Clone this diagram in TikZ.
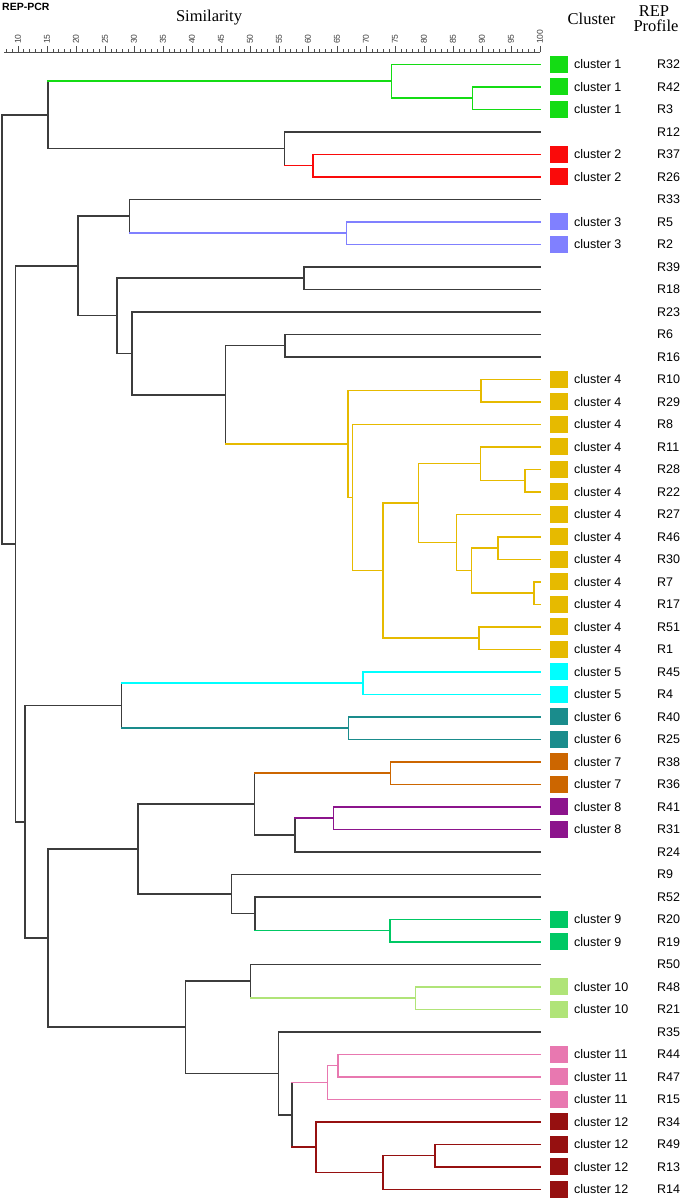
\documentclass[tikz,border=0pt]{standalone}
\usepackage{fontspec}
\setmainfont{Liberation Serif}
\setsansfont{Liberation Sans}
\definecolor{c0}{RGB}{60,60,60}
\definecolor{c1}{RGB}{20,220,20}
\definecolor{c2}{RGB}{250,10,10}
\definecolor{c3}{RGB}{128,128,255}
\definecolor{c4}{RGB}{230,186,0}
\definecolor{c5}{RGB}{0,255,255}
\definecolor{c6}{RGB}{26,140,140}
\definecolor{c7}{RGB}{204,102,0}
\definecolor{c8}{RGB}{140,20,140}
\definecolor{c9}{RGB}{0,200,100}
\definecolor{c10}{RGB}{176,228,120}
\definecolor{c11}{RGB}{232,120,176}
\definecolor{c12}{RGB}{150,16,16}
\newcommand\dn[6]{%
  \draw[dline,#2] (#1 |- #3) -- (#1 |- #5);
  \draw[dline,#4] (#3) -- (#1 |- #3);
  \draw[dline,#6] (#5) -- (#1 |- #5);}
\begin{document}
\begin{tikzpicture}[x=1pt,y=-1pt,
  dline/.style={line width=1.5pt,line cap=rect},
  axisline/.style={line width=0.6pt,draw=black!70},
  lab/.style={font=\sffamily\fontsize{12.5}{14}\selectfont,anchor=west,inner sep=0pt,text height=9pt,text depth=0pt},
  ticklab/.style={font=\sffamily\fontsize{8.5}{9}\selectfont,text=black!75,inner sep=0pt,rotate=90,anchor=west},
  head/.style={font=\fontsize{16.5}{18}\selectfont,inner sep=0pt,anchor=base},
  sq/.style={minimum width=18pt,minimum height=17pt,inner sep=0pt,draw=none}]
\useasboundingbox (0,0) rectangle (686,1200);
\fill[white] (0,0) rectangle (686,1200);
% header
\node[font=\sffamily\bfseries\fontsize{10.5}{12}\selectfont,anchor=base west,inner sep=0pt] (title) at (2,10.5) {REP-PCR};
\node[head] (sim) at (209,21) {Similarity};
\node[head] (clu) at (591.5,24) {Cluster};
\node[head] (rep) at (654,16) {REP};
\node[head] (prof) at (656,31) {Profile};
% axis
\coordinate (ax0) at (4,52);
\coordinate (ax1) at (540,52);
\draw[axisline] (ax0) -- (ax1);
\foreach \s in {8,...,100} {\draw[axisline] ({540-(100-\s)*5.8},52) -- ++(0,-3);}
\foreach \s in {10,15,...,100} {
  \draw[axisline] ({540-(100-\s)*5.8},52) -- ++(0,-6);
  \node[ticklab] (tk\s) at ({540-(100-\s)*5.8},44) {\s};}
\begin{scope}[y=-22.5pt,yshift=-64.3pt]
\foreach \i/\n/\c in {0/32/1,1/42/1,2/3/1,3/12/0,4/37/2,5/26/2,6/33/0,7/5/3,8/2/3,9/39/0,10/18/0,11/23/0,12/6/0,13/16/0,14/10/4,15/29/4,16/8/4,17/11/4,18/28/4,19/22/4,20/27/4,21/46/4,22/30/4,23/7/4,24/17/4,25/51/4,26/1/4,27/45/5,28/4/5,29/40/6,30/25/6,31/38/7,32/36/7,33/41/8,34/31/8,35/24/0,36/9/0,37/52/0,38/20/9,39/19/9,40/50/0,41/48/10,42/21/10,43/35/0,44/44/11,45/47/11,46/15/11,47/34/12,48/49/12,49/13/12,50/14/12} {
  \coordinate (R\n) at (540,\i);
  \node[lab] (lR\n) at (657,\i) {R\n};
  \ifnum\c>0
    \node[sq,fill=c\c] (sqR\n) at (559,\i) {};
    \node[lab] (ctR\n) at (574,\i) {cluster \c};
  \fi
}
\coordinate (a1) at (472.4,1.5);
\coordinate (a2) at (391.5,0.75);
\coordinate (b1) at (313.2,4.5);
\coordinate (b2) at (284.3,3.75);
\coordinate (t1) at (48.1,2.25);
\coordinate (c3n) at (346.5,7.5);
\coordinate (d1) at (129.5,6.75);
\coordinate (e1) at (304,9.5);
\coordinate (f1) at (285.2,12.5);
\coordinate (y1) at (481.2,14.5);
\coordinate (y2) at (525,18.5);
\coordinate (y3) at (480.3,17.75);
\coordinate (y4) at (497.8,21.5);
\coordinate (y5) at (534.1,23.5);
\coordinate (y6) at (471.6,22.5);
\coordinate (y7) at (456.3,21.25);
\coordinate (y8) at (418.6,19.5);
\coordinate (y9) at (479,25.5);
\coordinate (y10) at (382.8,22.5);
\coordinate (y11) at (352.6,19.25);
\coordinate (y12) at (348.2,16.875);
\coordinate (f2) at (225.3,14.6875);
\coordinate (f3) at (132.1,12.84375);
\coordinate (f4) at (116.8,11.171875);
\coordinate (g1) at (77.9,8.9609375);
\coordinate (c5n) at (363.1,27.5);
\coordinate (c6n) at (348.6,29.5);
\coordinate (h1) at (121.6,28.5);
\coordinate (c7n) at (390.6,31.5);
\coordinate (c8n) at (333.3,33.5);
\coordinate (i1) at (294.8,34.25);
\coordinate (i2) at (254.6,32.875);
\coordinate (c9n) at (389.8,38.5);
\coordinate (j1) at (255,37.75);
\coordinate (j2) at (231.4,36.875);
\coordinate (i3) at (138.2,34.875);
\coordinate (c10n) at (415.6,41.5);
\coordinate (k1) at (250.7,40.75);
\coordinate (c11a) at (338.1,44.5);
\coordinate (c11n) at (327.7,45.25);
\coordinate (c12a) at (434.8,48.5);
\coordinate (c12b) at (383.2,49.25);
\coordinate (c12n) at (315.8,48.125);
\coordinate (k2) at (292.2,46.6875);
\coordinate (k3) at (278.7,44.84375);
\coordinate (k4) at (185.5,42.796875);
\coordinate (i4) at (48.1,38.8359375);
\coordinate (h2) at (25,33.66796875);
\coordinate (m1) at (15.3,21.314453125);
\coordinate (root) at (2.2,11.7822265625);
\end{scope}
\dn{a1}{c1}{R42}{c1}{R3}{c1}
\dn{a2}{c1}{R32}{c1}{a1}{c1}
\dn{b1}{c2}{R37}{c2}{R26}{c2}
\dn{b2}{c0}{R12}{c0}{b1}{c2}
\dn{t1}{c0}{a2}{c1}{b2}{c0}
\dn{c3n}{c3}{R5}{c3}{R2}{c3}
\dn{d1}{c0}{R33}{c0}{c3n}{c3}
\dn{e1}{c0}{R39}{c0}{R18}{c0}
\dn{f1}{c0}{R6}{c0}{R16}{c0}
\dn{y1}{c4}{R10}{c4}{R29}{c4}
\dn{y2}{c4}{R28}{c4}{R22}{c4}
\dn{y3}{c4}{R11}{c4}{y2}{c4}
\dn{y4}{c4}{R46}{c4}{R30}{c4}
\dn{y5}{c4}{R7}{c4}{R17}{c4}
\dn{y6}{c4}{y4}{c4}{y5}{c4}
\dn{y7}{c4}{R27}{c4}{y6}{c4}
\dn{y8}{c4}{y3}{c4}{y7}{c4}
\dn{y9}{c4}{R51}{c4}{R1}{c4}
\dn{y10}{c4}{y8}{c4}{y9}{c4}
\dn{y11}{c4}{R8}{c4}{y10}{c4}
\dn{y12}{c4}{y1}{c4}{y11}{c4}
\dn{f2}{c0}{f1}{c0}{y12}{c4}
\dn{f3}{c0}{R23}{c0}{f2}{c0}
\dn{f4}{c0}{e1}{c0}{f3}{c0}
\dn{g1}{c0}{d1}{c0}{f4}{c0}
\dn{c5n}{c5}{R45}{c5}{R4}{c5}
\dn{c6n}{c6}{R40}{c6}{R25}{c6}
\dn{h1}{c0}{c5n}{c5}{c6n}{c6}
\dn{c7n}{c7}{R38}{c7}{R36}{c7}
\dn{c8n}{c8}{R41}{c8}{R31}{c8}
\dn{i1}{c0}{c8n}{c8}{R24}{c0}
\dn{i2}{c0}{c7n}{c7}{i1}{c0}
\dn{c9n}{c9}{R20}{c9}{R19}{c9}
\dn{j1}{c0}{R52}{c0}{c9n}{c9}
\dn{j2}{c0}{R9}{c0}{j1}{c0}
\dn{i3}{c0}{i2}{c0}{j2}{c0}
\dn{c10n}{c10}{R48}{c10}{R21}{c10}
\dn{k1}{c0}{R50}{c0}{c10n}{c10}
\dn{c11a}{c11}{R44}{c11}{R47}{c11}
\dn{c11n}{c11}{c11a}{c11}{R15}{c11}
\dn{c12a}{c12}{R49}{c12}{R13}{c12}
\dn{c12b}{c12}{c12a}{c12}{R14}{c12}
\dn{c12n}{c12}{R34}{c12}{c12b}{c12}
\dn{k2}{c0}{c11n}{c11}{c12n}{c12}
\dn{k3}{c0}{R35}{c0}{k2}{c0}
\dn{k4}{c0}{k1}{c0}{k3}{c0}
\dn{i4}{c0}{i3}{c0}{k4}{c0}
\dn{h2}{c0}{h1}{c0}{i4}{c0}
\dn{m1}{c0}{g1}{c0}{h2}{c0}
\dn{root}{c0}{t1}{c0}{m1}{c0}
\end{tikzpicture}
\end{document}
